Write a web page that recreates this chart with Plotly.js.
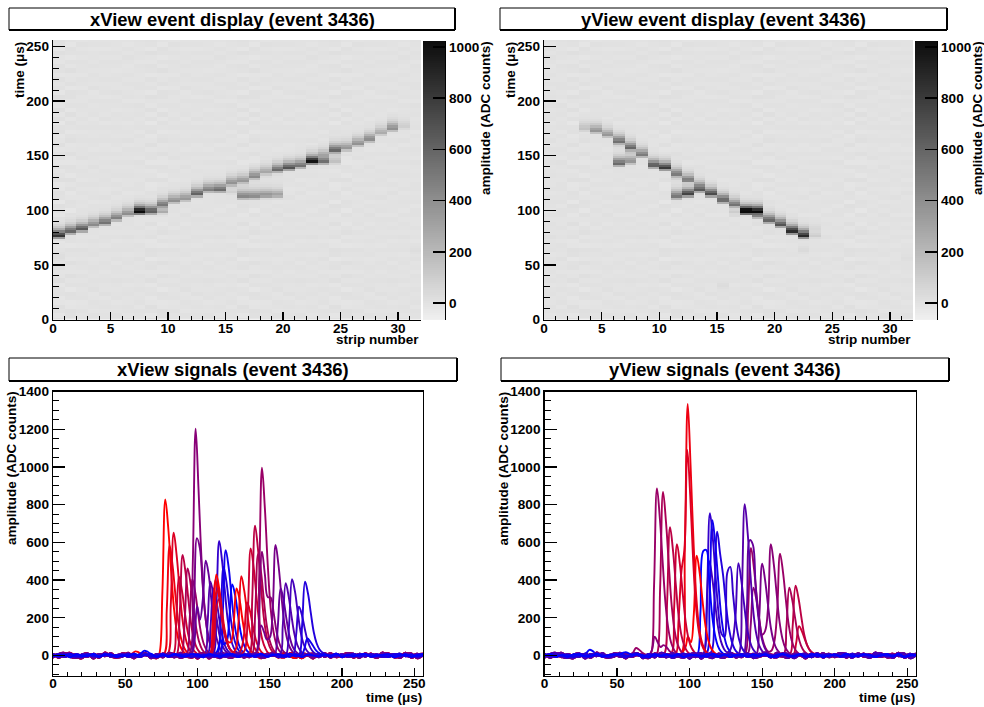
<!DOCTYPE html>
<html><head><meta charset="utf-8">
<script src="https://cdn.plot.ly/plotly-3.0.1.min.js"></script>
<style>html,body{margin:0;padding:0;background:#fff}</style></head>
<body><div id="chart" style="width:984px;height:707px"></div>
<script>
// ---- data ----
const eventId = 3436;
const timeTicks = [0, 50, 100, 150, 200, 250];
const stripTicks = [0, 5, 10, 15, 20, 25, 30];
const ampTicks = [0, 200, 400, 600, 800, 1000, 1200, 1400];
const barTicks = [0, 200, 400, 600, 800, 1000];

// baseline samples (ADC counts), one every 4 microseconds
const base0 = [3,-5,7,-2,-9,4,1,-6,8,-3,5,-8,2, 6,-4,-1,9,-7,3,-2,5,-10,6,1,-4,8, -6,2,-3,7,-5,4,-8,1,6,-2,-7,9,-1, 3,-6,5,2,-9,4,-3,7,-5,1,8,-4,-2, 6,-7,3,5,-8,2,-1,7,-6,4,-3,9,-5];
const base1 = [-4,6,-8,3,5,-2,-7,9,-1,4,-6,2,7, -3,-9,5,1,-5,8,-4,2,6,-7,-1,10,-3, 4,-8,6,1,-2,7,-6,3,-4,9,-5,-1,5, -8,2,7,-3,-6,8,1,-9,4,2,-5,6,-2, -7,9,-3,1,5,-6,8,-4,3,-1,-8,6,2];
const base2 = [7,-1,-6,4,2,-8,9,-3,-5,6,1,-7,3, 8,-2,-4,5,-9,2,7,-6,3,-1,4,-8,6, 1,-5,9,-3,-7,2,5,-1,8,-6,3,-4,7, -2,-8,6,1,-3,5,-7,9,-4,2,-1,6,-8, 4,3,-5,7,-2,-6,1,8,-3,5,-9,4,-1];
const base3 = [-2,8,-5,1,-7,6,3,-4,-1,9,-6,2,5, -8,4,-3,7,1,-9,5,-2,6,-4,8,-7,2, 3,-1,-6,9,-3,5,-8,4,1,-5,7,-2,6, -9,3,8,-4,-1,5,-6,2,7,-8,1,4,-3, 9,-5,-2,6,3,-7,1,5,-4,8,-6,-1,3];
const base4 = [5,-7,2,8,-3,-6,4,1,-9,7,-2,3,-5, 6,1,-8,4,-1,-4,9,-6,2,5,-3,7,-7, -1,6,3,-9,8,-2,-5,4,2,-6,7,-3,1, 5,-8,9,-4,3,-1,-7,6,2,-5,8,-9,4, 1,-3,7,-6,5,-2,-8,3,9,-4,6,-7,2];
const base5 = [-6,2,4,-9,7,-1,-3,8,-5,3,6,-8,1, -2,9,-6,3,5,-7,1,-4,8,-2,-5,6,4, -9,7,-1,-3,5,8,-6,2,-4,1,9,-7,3, 6,-2,-5,7,-8,4,1,-3,6,-1,9,-7,2, -4,5,8,-6,-2,3,7,-9,1,4,-5,2,8];
const base6 = [10,-13,6,14,-9,-15,8,3,-12,16,-6,-11,12, 4,-16,9,13,-7,-14,11,2,-10,15,-5,-12,7, 13,-17,5,10,-8,-13,14,1,-9,12,-15,6,8, -11,15,-4,-13,10,6,-16,9,-7,13,-10,3,14, -12,7,-5,11,-14,8,12,-9,-6,15,-13,4,9];
const base7 = [-12,9,14,-7,-13,5,11,-16,8,-4,13,-10,-6, 15,-9,3,12,-15,7,-11,14,6,-13,-3,10,-17, 8,12,-6,-14,11,-2,15,-12,5,9,-13,-7,16, -4,-11,13,7,-15,3,10,-8,14,-12,6,-5,11, 9,-14,12,-3,-10,16,-7,5,-13,8,11,-15,2];

// xView: time of first sample per strip, samples 2 microseconds apart
const xStart = [73.7,76.7,79.5,83.2,85.7,89.2,92.4,94.7,95.6,97.7,104.9,107,111,114,115.5,112,
                109,108.3,110.3,110.8,135.8,137.9,140.6,140.6,140,153.5,157,161.4,166.2,170.4,172,0];
const xWave = [
 [12,340,828,680,450,250,125,58,25,9],
 [8,240,584,480,320,175,88,41,18,6],
 [10,270,651,535,360,195,98,46,20,7],
 [6,175,418,345,230,125,63,29,13,4],
 [8,225,533,440,295,160,80,37,16,5],
 [7,195,462,380,255,140,70,32,14,5],
 [6,170,404,335,222,120,60,28,12,4],
 [14,480,1203,880,520,270,130,60,26,9],
 [10,260,622,570,370,195,98,46,20,7],
 [60,262,190,300,503,430,285,155,78,36,15],
 [6,165,392,325,215,118,59,27,12,4],
 [5,150,356,295,195,107,53,25,11,4],
 [9,255,607,500,335,182,91,42,18,6],
 [7,197,470,390,258,141,70,33,14,5],
 [8,235,559,470,315,172,86,40,17,6],
 [5,30,80,60,70,200,377,320,215,118,59,27,12,4],
 [8,180,430,355,235,128,75,70,170,355,300,195,105,52,24,8],
 [6,150,400,340,225,125,70,35,18,30,170,421,345,230,125,63,29,12],
 [40,300,355,250,140,75,36,18,12,10,35,118,282,235,155,85,42,18,7],
 [30,230,300,215,118,60,30,15,10,8,12,30,235,568,470,312,170,85,40,15],
 [10,290,688,565,380,205,103,48,21,7],
 [8,225,538,445,295,160,80,38,16,5],
 [14,400,996,780,480,250,125,58,25,9],
 [10,225,550,430,310,308,230,130,65,30,13,5],
 [8,60,160,125,85,95,245,586,480,320,175,88,41,18,6],
 [5,150,356,295,195,107,53,25,11,4],
 [6,160,383,315,210,115,57,27,11,4],
 [6,170,404,340,225,122,61,28,12,4],
 [4,108,259,215,142,78,39,18,8,3],
 [5,165,391,330,225,125,65,32,16,7],
 [2,38,90,74,50,27,13,6,3,1],
 []
];
const xExtraStrip = [0, 31];
const xExtraStart = [53, 59];
const xExtraWave = [[3,12,22,18,9,3],[3,12,25,22,12,5]];

// yView
const yStart = [0,0,0,171.4,169,164.7,138.3,140,146,137.5,134,109.6,110,115,111.7,105.5,
                96.9,94.7,90.4,87.3,82.5,77.7,73.5,72,0,0,0,0,0,0,0,0];
const yWave = [
 [],[],[],
 [3,65,156,128,86,47,23,11,5,2],
 [5,155,370,305,203,110,55,26,11,4],
 [5,150,360,295,198,108,54,25,11,4],
 [10,240,570,465,310,170,85,40,20,25,70,230,540,445,297,162,81,38,16,5],
 [8,150,360,295,195,110,130,250,590,485,325,177,88,41,18,6],
 [7,205,487,400,268,146,73,34,15,5],
 [8,255,612,590,370,195,98,45,19,6],
 [10,335,803,650,420,225,112,52,23,8],
 [10,210,500,410,275,150,75,36,18,25,75,205,490,400,268,146,73,34,15,5],
 [15,320,754,620,410,220,115,100,440,470,320,175,88,41,18,6],
 [20,275,657,540,430,275,150,75,35,15,5],
 [10,300,718,590,395,215,108,50,22,7],
 [8,235,555,559,400,215,108,50,22,8],
 [40,100,70,220,529,440,290,160,80,37,16,5],
 [16,560,1334,1000,600,300,140,65,28,10],
 [8,190,450,560,1090,850,510,260,125,58,25,9],
 [9,248,590,485,325,177,88,41,18,6],
 [10,285,680,560,375,204,102,48,20,7],
 [12,365,867,710,477,260,130,61,26,9],
 [14,372,886,725,487,266,133,62,27,9],
 [3,28,100,70,45,55,45,25,10,4],
 [],[],[],[],[],[],[],[]
];
const yExtraStrip = [22, 15, 31];
const yExtraStart = [59, 27, 52];
const yExtraWave = [[3,15,40,32,18,7],[5,15,30,25,12,4],[6,14,18,12,5]];

const bases = [base6, base7, base0, base1, base2, base3, base4, base5];
const FONT = 'Liberation Sans, Arial, sans-serif';
const W = 984, H = 707;
const px = v => v / W, py = v => 1 - v / H;

function stripSeries(i, starts, waves, exS, exT, exW, shift) {
  const segs = [];
  if (waves[i].length) segs.push([starts[i], waves[i]]);
  exS.forEach((s, k) => { if (s === i) segs.push([exT[k], exW[k]]); });
  const pts = [];
  const noise = bases[(i + shift) % bases.length];
  noise.forEach((v, k) => {
    const t = k * 4;
    const covered = segs.some(g => t >= g[0] - 1 && t <= g[0] + (g[1].length - 1) * 2 + 1);
    if (!covered) pts.push([t, v]);
  });
  segs.forEach(g => g[1].forEach((v, k) => pts.push([g[0] + k * 2, v])));
  pts.sort((a, b) => a[0] - b[0]);
  return pts;
}
function stripColor(i) {
  const f = (i % 16) / 15;
  return `rgb(${Math.round(255 * (1 - f))},0,${Math.round(255 * f)})`;
}
function heatGrid(series) {
  const rows = [], ys = [];
  for (let r = 0; r < 128; r++) {
    const tc = r * 2 + 1;
    ys.push(tc);
    rows.push(series.map(p => {
      let best = p[0];
      p.forEach(q => { if (Math.abs(q[0] - tc) < Math.abs(best[0] - tc)) best = q; });
      return best[1];
    }));
  }
  return { ys, rows };
}
const xSeries = xWave.map((_, i) => stripSeries(i, xStart, xWave, xExtraStrip, xExtraStart, xExtraWave, 0));
const ySeries = yWave.map((_, i) => stripSeries(i, yStart, yWave, yExtraStrip, yExtraStart, yExtraWave, 6));
const stripCentres = xWave.map((_, i) => i + 0.5);

const tickFont = { family: FONT, size: 13.6, color: '#000', weight: 'bold' };
const grey = [[0, 'rgb(240,240,240)'], [1, 'rgb(12,12,12)']];
const Z0 = -66, Z1 = 1023;
const traces = [];
const layout = {
  width: W, height: H, margin: { l: 0, r: 0, t: 0, b: 0 }, showlegend: false,
  paper_bgcolor: '#fff', plot_bgcolor: '#fff', font: { family: FONT },
  shapes: [], annotations: []
};
function axis(extra) {
  return Object.assign({
    showgrid: false, zeroline: false, showline: true, linecolor: '#000', linewidth: 1.3,
    ticks: 'inside', tickcolor: '#000', tickwidth: 1.3, tickfont: tickFont
  }, extra);
}
function note(text, x, y, size, angle, xa) {
  layout.annotations.push({
    text, x: px(x), y: py(y), xref: 'paper', yref: 'paper', showarrow: false,
    xanchor: xa || 'center', yanchor: 'middle', textangle: angle || 0,
    font: { family: FONT, size, color: '#000', weight: 'bold' }
  });
}
function titleBox(text, x0, x1, y0, y1) {
  const s = layout.shapes;
  s.push({ type: 'rect', xref: 'paper', yref: 'paper', x0: px(x0), x1: px(x1), y0: py(y0), y1: py(y1), fillcolor: '#fff', line: { color: '#000', width: 1 } });
  s.push({ type: 'line', xref: 'paper', yref: 'paper', x0: px(x0), x1: px(x1), y0: py(y1), y1: py(y1), line: { color: '#000', width: 2 } });
  s.push({ type: 'line', xref: 'paper', yref: 'paper', x0: px(x1), x1: px(x1), y0: py(y0), y1: py(y1), line: { color: '#000', width: 2 } });
  note(text, (x0 + x1) / 2, (y0 + y1) / 2, 18.4);
}
function heatPanel(n, barN, series, L, R, barL) {
  const g = heatGrid(series);
  const sfx = n === 1 ? '' : n;
  traces.push({
    type: 'heatmap', x: stripCentres, y: g.ys, z: g.rows, zmin: Z0, zmax: Z1, colorscale: grey, showscale: false,
    xaxis: 'x' + sfx, yaxis: 'y' + sfx, hoverinfo: 'skip'
  });
  layout['xaxis' + sfx] = axis({
    domain: [px(L), px(R)], range: [0, 32], anchor: 'y' + sfx,
    tickmode: 'array', tickvals: stripTicks, ticklen: 8, ticklabelstandoff: -4,
    minor: { dtick: 1, ticks: 'inside', ticklen: 4, tickcolor: '#000', tickwidth: 1 }
  });
  layout['yaxis' + sfx] = axis({
    domain: [py(319.5), py(40)], range: [0, 256], anchor: 'x' + sfx,
    tickmode: 'array', tickvals: timeTicks, ticklen: 12,
    minor: { dtick: 10, ticks: 'inside', ticklen: 6, tickcolor: '#000', tickwidth: 1 }
  });
  // colour key: a thin heatmap panel with its own amplitude axis
  const levels = [];
  for (let v = Z0; v <= Z1; v += 8) levels.push(v);
  traces.push({
    type: 'heatmap', x: [0], y: levels, z: levels.map(v => [v]), zmin: Z0, zmax: Z1, colorscale: grey,
    showscale: false, xaxis: 'x' + barN, yaxis: 'y' + barN, hoverinfo: 'skip'
  });
  layout['xaxis' + barN] = { domain: [px(barL), px(barL + 22)], anchor: 'y' + barN, visible: false, range: [-0.5, 0.5] };
  layout['yaxis' + barN] = axis({
    domain: [py(320), py(41)], range: [Z0, Z1], anchor: 'x' + barN, side: 'right',
    tickmode: 'array', tickvals: barTicks, ticklen: 12, tickwidth: 1.6
  });
  note('time (μs)', L - 33, 70, 13.5, -90);
  note('strip number', R - 44, 340, 13.5);
  note('amplitude (ADC counts)', barL + 63, 118, 13.5, -90);
}
function linePanel(n, series, L, R) {
  const sx = 'x' + n, sy = 'y' + n;
  series.forEach((p, i) => traces.push({
    type: 'scatter', mode: 'lines', x: p.map(q => q[0]), y: p.map(q => q[1]),
    line: { color: stripColor(i), width: 1.9, shape: 'spline', smoothing: 1.1 },
    xaxis: sx, yaxis: sy, hoverinfo: 'skip'
  }));
  layout['xaxis' + n] = axis({
    domain: [px(L), px(R)], range: [0, 256], anchor: sy, mirror: true,
    tickmode: 'array', tickvals: timeTicks, ticklen: 8, ticklabelstandoff: -5,
    minor: { dtick: 10, ticks: 'inside', ticklen: 4, tickcolor: '#000', tickwidth: 1 }
  });
  layout['yaxis' + n] = axis({
    domain: [py(675.5), py(391.5)], range: [-106, 1400], anchor: sx, mirror: true,
    tickmode: 'array', tickvals: ampTicks, ticklen: 12,
    minor: { dtick: 50, ticks: 'inside', ticklen: 6, tickcolor: '#000', tickwidth: 1 }
  });
  note('amplitude (ADC counts)', L - 42, 468, 13.5, -90);
  note('time (μs)', R - 29, 697, 13.5);
}
heatPanel(1, 5, xSeries, 53, 421, 423);
heatPanel(2, 6, ySeries, 544, 913, 915);
linePanel(3, xSeries, 53, 423);
linePanel(4, ySeries, 544.5, 916);
titleBox(`xView event display (event ${eventId})`, 9, 455, 8, 30);
titleBox(`yView event display (event ${eventId})`, 500, 947, 8, 30);
titleBox(`xView signals (event ${eventId})`, 9, 457, 358, 381);
titleBox(`yView signals (event ${eventId})`, 501, 949, 358, 381);
Plotly.newPlot('chart', traces, layout, { displayModeBar: false, staticPlot: true });
</script></body></html>
